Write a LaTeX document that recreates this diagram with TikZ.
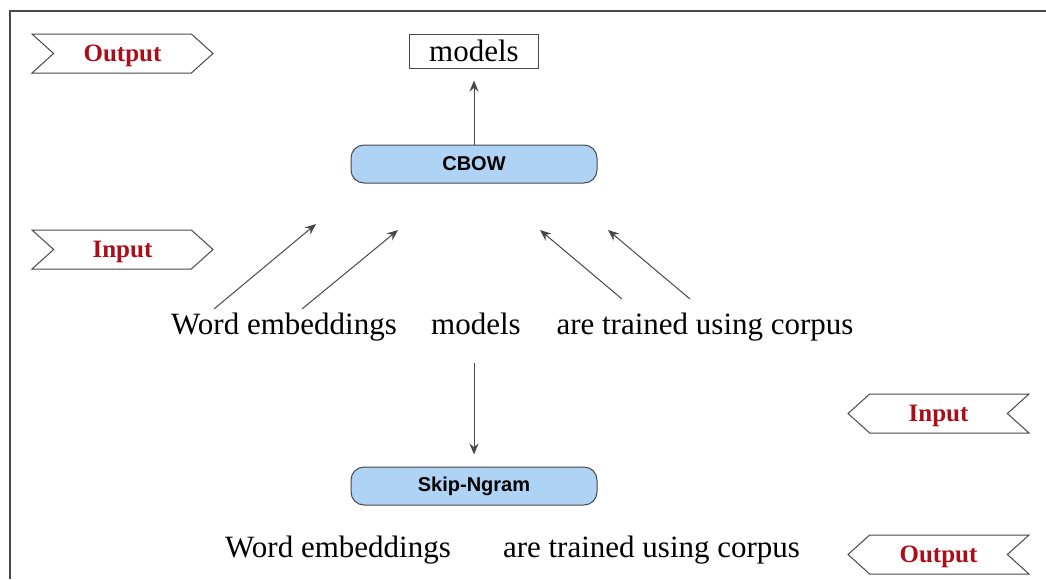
\documentclass[tikz,border=0pt]{standalone}
\usepackage{fontspec}
\setmainfont{Liberation Serif}
\setsansfont{Liberation Sans}
\usetikzlibrary{shapes.symbols,arrows.meta}
\definecolor{tagred}{RGB}{170,14,24}
\definecolor{boxblue}{RGB}{174,211,244}
\definecolor{linegray}{RGB}{72,72,72}
\tikzset{
  tag/.style={signal, draw=linegray, line width=1pt, signal pointer angle=84,
    minimum width=181pt, minimum height=39pt, inner sep=0pt, text depth=0pt,
    font=\fontsize{25}{25}\selectfont\bfseries, text=tagred},
  tagright/.style={tag, signal from=west, signal to=east},
  tagleft/.style={tag, signal from=east, signal to=west},
  modelbox/.style={rectangle, rounded corners=13pt, draw=linegray, fill=boxblue,
    line width=1pt, minimum width=246pt, minimum height=38pt,
    font=\sffamily\bfseries\fontsize{20}{20}\selectfont},
  word/.style={anchor=base, inner sep=0pt, font=\fontsize{31}{31}\selectfont},
  arr/.style={-{Stealth[length=11pt,width=9pt]}, line width=1pt, linegray},
}
\begin{document}
\begin{tikzpicture}[x=1pt, y=-1pt]
\useasboundingbox (0,0) rectangle (1046,579);
\draw[linegray, line width=1.4pt] (10,579) -- (10,11) -- (1046,11);
\node[tagright] (outtop) at (122.5,53.5) {Output};
\node[tagright] (intop) at (122.5,249.5) {Input};
\node[tagleft] (inbot) at (938.5,413.5) {Input};
\node[tagleft] (outbot) at (938.5,554.5) {Output};
\node[rectangle, draw=linegray, line width=1pt, minimum width=129pt, minimum height=34pt,
  inner sep=0pt, font=\fontsize{31}{31}\selectfont] (result) at (474,51) {models};
\node[modelbox] (cbow) at (474,164) {CBOW};
\node[modelbox] (skip) at (474,486) {Skip-Ngram};
\node[word] (wa) at (284,334) {Word embeddings};
\node[word] (wb) at (476,334) {models};
\node[word] (wc) at (705,334) {are trained using corpus};
\node[word] (va) at (338,557) {Word embeddings};
\node[word] (vc) at (651.5,557) {are trained using corpus};
\coordinate (ta) at (214,309);
\coordinate (ha) at (316,224);
\coordinate (tb) at (302,309);
\coordinate (hb) at (398,230);
\coordinate (tc) at (622,299);
\coordinate (hc) at (540,230);
\coordinate (td) at (690,299);
\coordinate (hd) at (608,230);
\draw[arr, shorten >=12pt] (cbow) -- (result);
\draw[arr] (ta) -- (ha);
\draw[arr] (tb) -- (hb);
\draw[arr] (tc) -- (hc);
\draw[arr] (td) -- (hd);
\draw[arr, shorten <=28pt, shorten >=12pt] (wb.south -| skip.north) -- (skip.north);
\end{tikzpicture}
\end{document}
